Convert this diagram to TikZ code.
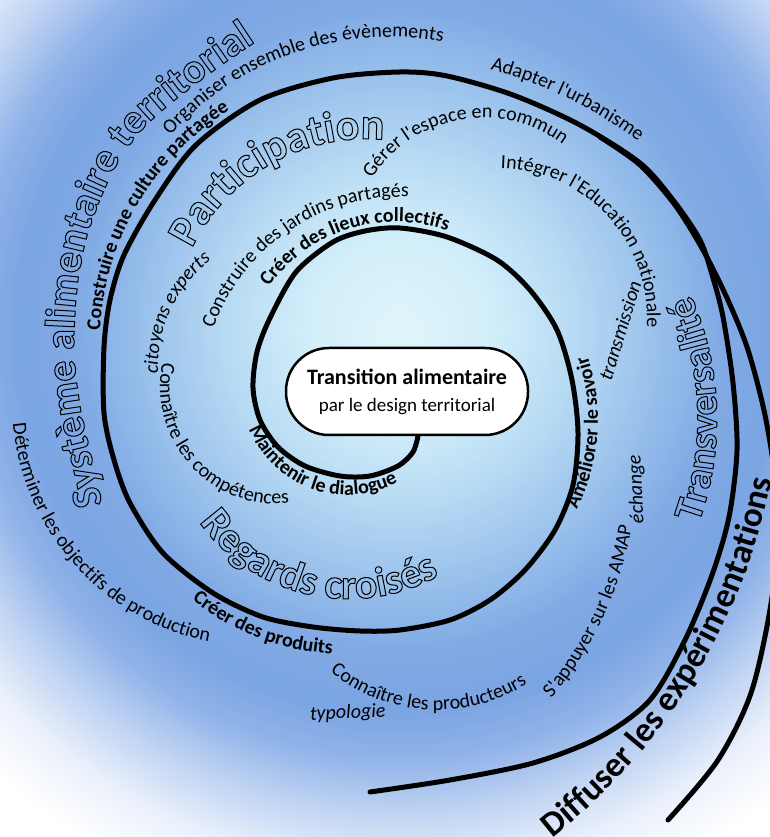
\documentclass[tikz,border=0pt]{standalone}
\usepackage{fontspec}
\setmainfont{Carlito}[Ligatures=TeXOff]
\usetikzlibrary{decorations.text}

\definecolor{glowA}{HTML}{E0F5FB}
\definecolor{glowB}{HTML}{D3EFFA}
\definecolor{glowC}{HTML}{B9DCF4}
\definecolor{glowD}{HTML}{9CC3EC}
\definecolor{glowE}{HTML}{82ABE5}
\definecolor{glowF}{HTML}{7BA4E3}
\definecolor{glowG}{HTML}{90B3E8}
\definecolor{glowH}{HTML}{BCD1F2}
\definecolor{glowI}{HTML}{EAF0FB}

\newcommand{\solid}{\special{pdf:literal direct 0 Tr}}
\newcommand{\hollow}{\special{pdf:literal direct 1 Tr 1 w}}
\newcommand{\kwreg}{\solid\fontsize{20}{24}\selectfont}
\newcommand{\kwbold}{\solid\fontsize{20}{24}\selectfont\bfseries}
\newcommand{\kwit}{\solid\fontsize{20}{24}\selectfont\itshape}
\newcommand{\kwbig}[1]{\hollow\fontsize{#1}{#1}\selectfont\bfseries}
\newcommand{\kwdiff}{\solid\fontsize{35}{40}\selectfont\bfseries}

\tikzset{spiral/.style={
  line width=5pt,
  line cap=round
}}
\tikzset{core/.style={
  draw,
  fill=white,
  line width=2.5pt,
  rounded corners=43pt,
  minimum width=242pt,
  minimum height=87pt,
  align=center
}}
\tikzset{lbl/.style={
  decorate,
  decoration={text along path,text align=center,text={#1}}
}}

\begin{document}
\begin{tikzpicture}[x=1pt,y=1pt]
  \useasboundingbox (0,0) rectangle (770,837);

  % Background glow
  \begin{scope}
    \clip (0,0) rectangle (770,837);
    \fill[white] (0,0) rectangle (770,837);
    \foreach \ra/\rb/\ca/\cb in {600/540/white/glowI, 540/480/glowI/glowH,
        480/430/glowH/glowG, 430/380/glowG/glowF, 380/320/glowF/glowE,
        320/250/glowE/glowD, 250/170/glowD/glowC, 170/90/glowC/glowB,
        90/0/glowB/glowA}
      \foreach \t in {0,5,...,95}
        \fill[\cb!\t!\ca] (400,507) circle[radius={\ra-(\ra-\rb)*\t/100}];
  \end{scope}

  % Spiral and outer line
  \draw[spiral] plot[smooth] coordinates {
    (418,401) (413,385) (398,371) (370,361) (340,361) (305,371) (278,390)
    (260,417) (253,449) (257,485) (270,519) (296,565) (333,595) (365,606)
    (400,609) (447,600) (497,577) (530,547) (557,507) (572,457) (578,404)
    (573,352) (555,307) (525,267) (490,237) (450,217) (400,207) (360,206)
    (313,210) (263,220) (213,244) (163,284) (130,334) (114,377) (104,424)
    (104,490) (110,537) (124,582) (155,637) (196,692) (260,737) (333,759)
    (400,765) (447,761) (513,742) (580,712) (640,674) (673,637) (700,597)
    (713,559) (723,520) (733,454) (737,387) (729,320) (712,262) (685,197)
    (650,137) (600,100) (533,74) (450,57) (370,45)};
  \draw[spiral] plot[smooth] coordinates {
    (600,700) (640,672) (675,632) (703,587) (727,539) (748,487) (766,417)
    (777,337) (773,247) (752,147) (718,77) (668,17)};

  % Centre
  \node[core,font=\solid\fontsize{19}{27}\selectfont] (core) at (407,445.5)
    {{\bfseries\fontsize{22}{27}\selectfont Transition alimentaire}\\par le design territorial};

  % Outer ring
  \path[lbl={|\kwbig{42}|Système alimentaire territorial}] plot[smooth] coordinates {
    (109,306) (103,330) (91,382) (80,432) (74,487) (77,547) (86,597) (100,637)
    (117,673) (139,704) (164,728) (193,751) (223,773) (257,796) (279,810)};
  \path[lbl={|\kwreg|Organiser ensemble des évènements},shift={(390,506)}]
    (150:294pt) arc[start angle=150,end angle=68,radius=294pt];
  \path[lbl={|\kwreg|Adapter l'urbanisme},shift={(366,325)}]
    (80:460pt) arc[start angle=80,end angle=48,radius=460pt];
  \path[lbl={|\kwreg|Déterminer les objectifs de production},shift={(256,435)}]
    (174:244pt) arc[start angle=174,end angle=270,radius=244pt];
  \path[lbl={|\kwdiff|Diffuser les expérimentations},shift={(181,473)}]
    (-58:602pt) arc[start angle=-58,end angle=-5,radius=602pt];

  % Middle ring
  \path[lbl={|\kwbold|Construire une culture partagée},shift={(373,494)}]
    (190:273pt) arc[start angle=190,end angle=109,radius=273pt];
  \path[lbl={|\kwbig{44}|Participation},shift={(366,505)}]
    (165:193pt) arc[start angle=165,end angle=74,radius=193pt];
  \path[lbl={|\kwreg|Gérer l'espace en commun},shift={(483,587)}]
    (160:132pt) arc[start angle=160,end angle=40,radius=132pt];
  \path[lbl={|\kwreg|Intégrer l'Education nationale},shift={(497,519)}]
    (97:150pt) arc[start angle=97,end angle=-12,radius=150pt];
  \path[lbl={|\kwbig{40}|Transversalité},shift={(411,418)}]
    (-30:306pt) arc[start angle=-30,end angle=34,radius=306pt];
  \path[lbl={|\kwit|transmission}] (606,438) -- (647,571);
  \path[lbl={|\kwit|échange}] (644,305) -- (640,391);
  \path[lbl={|\kwreg|S'appuyer sur les AMAP},shift={(276,372)}]
    (-48:361pt) arc[start angle=-48,end angle=-2,radius=361pt];
  \path[lbl={|\kwreg|Connaître les producteurs},shift={(437,295)}]
    (220:168pt) arc[start angle=220,end angle=313,radius=168pt];
  \path[lbl={|\kwit|typologie}] (300,116.5) -- (396,120.5);
  \path[lbl={|\kwbold|Créer des produits},shift={(345,426)}]
    (220:243pt) arc[start angle=220,end angle=278,radius=243pt];
  \path[lbl={|\kwbig{42}|Regards croisés},shift={(349,422)}]
    (205:184pt) arc[start angle=205,end angle=310,radius=184pt];

  % Inner ring
  \path[lbl={|\kwreg|Construire des jardins partagés},shift={(400,442)}]
    (171:198pt) arc[start angle=171,end angle=77,radius=198pt];
  \path[lbl={|\kwit|citoyens experts},shift={(292,470)}]
    (195:134pt) arc[start angle=195,end angle=115,radius=134pt];
  \path[lbl={|\kwbold|Créer des lieux collectifs},shift={(396,458)}]
    (157:157pt) arc[start angle=157,end angle=58,radius=157pt];
  \path[lbl={|\kwreg|Connaître les compétences},shift={(277,450)}]
    (157:117pt) arc[start angle=157,end angle=287,radius=117pt];
  \path[lbl={|\kwbold|Maintenir le dialogue},shift={(347,448)}]
    (193:106pt) arc[start angle=193,end angle=308,radius=106pt];
  \path[lbl={|\kwbold|Améliorer le savoir},shift={(400,417)}]
    (-37:198pt) arc[start angle=-37,end angle=29,radius=198pt];

\end{tikzpicture}
\end{document}
